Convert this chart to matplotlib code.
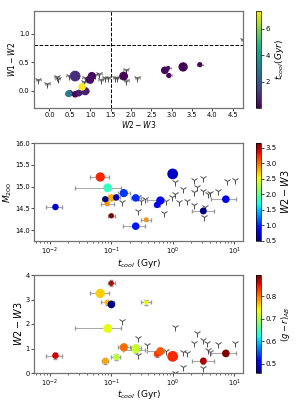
import numpy as np
import matplotlib
matplotlib.use('Agg')
import matplotlib.pyplot as plt
from matplotlib.colors import Normalize

# cool-core clusters
tcool = np.array([0.10, 0.066, 0.085, 0.10, 0.37, 0.087, 0.0123, 0.080, 0.12,
                  0.16, 0.25, 0.25, 0.56, 0.63, 1.0, 3.16, 7.35])
tcool_lo = np.array([0.088, 0.045, 0.069, 0.090, 0.31, 0.0255, 0.0087, 0.071, 0.10,
                     0.13, 0.21, 0.155, 0.50, 0.38, 0.90, 2.05, 4.2])
tcool_hi = np.array([0.113, 0.093, 0.11, 0.112, 0.44, 0.145, 0.016, 0.09, 0.14,
                     0.20, 0.30, 0.35, 0.62, 0.72, 1.1, 4.8, 10.6])
w2w3 = np.array([3.66, 3.25, 2.88, 2.80, 2.88, 1.82, 0.71, 0.49, 0.65,
                 1.05, 1.03, 0.95, 0.78, 0.89, 0.68, 0.49, 0.80])
w2w3_p1 = np.array([3.69, 3.28, 2.93, 2.83, 2.91, 1.82, 0.71, 0.50, 0.63,
                    1.04, 1.00, 0.98, 0.73, 0.88, 0.63, 0.47, 0.80])
w1w2 = np.array([0.46, 0.42, 0.27, 0.36, 0.40, 0.26, -0.04, -0.04, -0.06,
                 0.26, 0.19, 0.20, -0.035, -0.005, 0.26, -0.05, 0.07])
m200 = np.array([14.33, 15.22, 14.61, 14.74, 14.24, 14.97, 14.53, 14.71, 14.75,
                 14.85, 14.74, 14.09, 14.58, 14.68, 15.29, 14.44, 14.71])
g_r = np.array([0.873, 0.76, 0.77, 0.46, 0.735, 0.735, 0.864, 0.78, 0.71,
                0.806, 0.717, 0.717, 0.833, 0.815, 0.837, 0.877, 0.895])
sizes = np.array([14, 45, 14, 30, 10, 40, 22, 20, 22, 35, 30, 30, 22, 35, 60, 25, 30])

# non cool-core clusters (Y markers)
ncc_w23 = [-0.27, -0.05, 0.20, 0.18, 0.47, 0.87, 0.85, 1.12, 1.22, 1.26, 1.36,
           1.43, 1.62, 1.66, 1.87, 1.88, 2.15, 4.75]
ncc_w12 = [0.19, 0.12, 0.20, 0.24, 0.26, 0.22, 0.15, 0.28, 0.30, 0.19, 0.23,
           0.23, 0.22, 0.23, 0.36, 0.18, 0.23, 0.90]
ncc_t2 = [0.152, 0.27, 0.31, 0.36, 0.27, 0.72, 1.1, 1.47, 0.97, 1.1, 1.25, 1.73,
          2.2, 2.2, 2.26, 3.08, 2.5, 3.08, 3.8, 4.06, 5.5, 7.6, 10.3, 3.4, 3.2, 0.79]
ncc_m = [14.64, 14.77, 14.67, 14.71, 14.43, 14.39, 15.11, 14.95, 14.77, 14.84, 14.64,
         14.66, 14.58, 14.88, 15.16, 15.20, 14.99, 14.89, 14.83, 14.85, 14.89, 15.12,
         15.15, 14.52, 14.30, 14.66]
ncc_t3 = [0.152, 0.27, 0.27, 0.38, 0.79, 1.1, 1.1, 1.47, 1.7, 1.47, 2.2, 2.47,
          3.08, 3.6, 3.7, 4.0, 5.5, 10.3, 3.08]
ncc_w3 = [2.12, 1.44, 0.73, 1.15, 0.90, 1.89, 0.02, 0.87, 0.83, 0.26, 1.21, 1.62,
          1.35, 1.24, 0.94, 0.84, 1.18, 1.24, 0.22]

W, H = 299, 401
fig = plt.figure(figsize=(W / 100, H / 100), dpi=100)

def box(l, r, t, b):
    return [l / W, 1 - b / H, (r - l) / W, (b - t) / H]

ecol = '0.6'
ycol = '0.3'

def style(ax):
    for s in ax.spines.values():
        s.set_color('0.45')
        s.set_linewidth(0.9)
    ax.tick_params(labelsize=4.8, length=2, width=0.5, pad=1.2)
    ax.tick_params(which='minor', length=1.2, width=0.4)

# ---- panel 1
ax1 = fig.add_axes(box(34, 243, 11, 108))
ax1.errorbar(ncc_w23, ncc_w12, xerr=0.06, yerr=0.02, fmt='1', color=ycol, ms=5.5,
             mew=0.7, ecolor=ecol, elinewidth=0.5, capsize=1, zorder=2)
ax1.errorbar(w2w3_p1, w1w2, xerr=0.08, yerr=0.03, fmt='none', ecolor=ecol,
             elinewidth=0.5, capsize=1, zorder=3)
norm1 = Normalize(tcool.min(), tcool.max())
sc1 = ax1.scatter(w2w3_p1, w1w2, c=tcool, cmap='viridis', norm=norm1, s=sizes,
                  edgecolors='none', zorder=4)
ax1.axvline(1.5, color='k', ls='--', lw=0.7)
ax1.axhline(0.8, color='k', ls='--', lw=0.7)
ax1.set_xlim(-0.38, 4.75)
ax1.set_ylim(-0.3, 1.4)
ax1.set_xticks(np.arange(0, 4.6, 0.5))
ax1.set_yticks([0.0, 0.5, 1.0])
ax1.set_xlabel('$W2-W3$', fontsize=5.5, labelpad=0.5)
ax1.set_ylabel('$W1-W2$', fontsize=5.5, labelpad=1.5)
style(ax1)
cax1 = fig.add_axes(box(256, 260.5, 11, 108))
cb1 = fig.colorbar(sc1, cax=cax1, ticks=[2, 4, 6])
cb1.set_label('$t_{cool}(Gyr)$', fontsize=6.5, labelpad=2)
cb1.ax.tick_params(labelsize=5, length=2, width=0.5, pad=1.5)
cb1.outline.set_linewidth(0.5)

# ---- panel 2
ax2 = fig.add_axes(box(34, 243, 143, 241))
ax2.plot(ncc_t2, ncc_m, '1', color=ycol, ms=5.5, mew=0.7, zorder=2)
ax2.errorbar(tcool, m200, xerr=[tcool - tcool_lo, tcool_hi - tcool], yerr=0.03,
             fmt='none', ecolor=ecol, elinewidth=0.6, capsize=1.2, zorder=3)
norm2 = Normalize(w2w3.min(), w2w3.max())
sc2 = ax2.scatter(tcool, m200, c=w2w3, cmap='jet', norm=norm2, s=sizes,
                  edgecolors='none', zorder=4)
ax2.set_xscale('log')
ax2.set_xlim(0.0055, 14)
ax2.set_ylim(13.75, 16.0)
ax2.set_yticks([14.0, 14.5, 15.0, 15.5, 16.0])
ax2.set_xlabel('$t_{cool}$ (Gyr)', fontsize=6.5, labelpad=0)
ax2.set_ylabel('$M_{200}$', fontsize=6.5, labelpad=0.5)
style(ax2)
cax2 = fig.add_axes(box(256, 260.5, 143, 241))
cb2 = fig.colorbar(sc2, cax=cax2, ticks=np.arange(0.5, 3.6, 0.5))
cb2.set_label('$W2-W3$', fontsize=7, labelpad=2)
cb2.ax.tick_params(labelsize=5, length=2, width=0.5, pad=1.5)
cb2.outline.set_linewidth(0.5)

# ---- panel 3
ax3 = fig.add_axes(box(34, 243, 275, 373))
ax3.plot(ncc_t3, ncc_w3, '1', color=ycol, ms=5.5, mew=0.7, zorder=2)
ax3.errorbar(tcool, w2w3, xerr=[tcool - tcool_lo, tcool_hi - tcool], yerr=0.12,
             fmt='none', ecolor=ecol, elinewidth=0.6, capsize=1.2, zorder=3)
norm3 = Normalize(g_r.min(), g_r.max())
sc3 = ax3.scatter(tcool, w2w3, c=g_r, cmap='jet', norm=norm3, s=sizes,
                  edgecolors='none', zorder=4)
ax3.set_xscale('log')
ax3.set_xlim(0.0055, 14)
ax3.set_ylim(0, 4)
ax3.set_yticks([0, 1, 2, 3, 4])
ax3.set_xlabel('$t_{cool}$ (Gyr)', fontsize=6.5, labelpad=-0.5)
ax3.set_ylabel('$W2-W3$', fontsize=7, labelpad=1)
style(ax3)
cax3 = fig.add_axes(box(256, 260.5, 275, 373))
cb3 = fig.colorbar(sc3, cax=cax3, ticks=[0.5, 0.6, 0.7, 0.8])
cb3.set_label('$(g-r)_{AB}$', fontsize=6, labelpad=2)
cb3.ax.tick_params(labelsize=5, length=2, width=0.5, pad=1.5)
cb3.outline.set_linewidth(0.5)

fig.savefig('out.png', dpi=100)
